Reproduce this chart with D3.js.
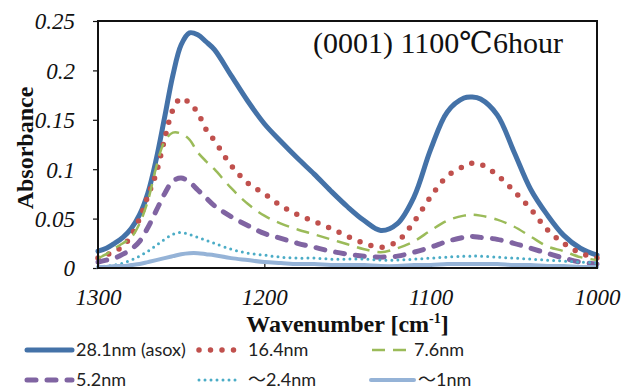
<!DOCTYPE html>
<html>
<head>
<meta charset="utf-8">
<script src="https://cdn.jsdelivr.net/npm/d3@7/dist/d3.min.js"></script>
<style>
  body { margin: 0; background: #fff; }
  svg { display: block; }
  .tick-label { font-family: "Liberation Serif", "DejaVu Serif", serif; font-style: italic; font-size: 23px; fill: #111; }
  .axis-title { font-family: "Liberation Serif", "DejaVu Serif", serif; font-weight: bold; font-size: 24px; fill: #111; }
  .chart-title { font-family: "Liberation Serif", "DejaVu Serif", serif; font-size: 30px; fill: #111; }
  .legend-text { font-family: Lato, "Noto Sans", sans-serif; font-size: 18px; fill: #222; }
  .tilde { font-family: "Noto Sans CJK JP", "Noto Sans CJK SC", sans-serif; }
</style>
</head>
<body>
<div id="chart"></div>
<script>
// wavenumber grid (cm-1)
const wavenumbers = [1300, 1295, 1290, 1285, 1280, 1275, 1270, 1265, 1260, 1255, 1250, 1245, 1240, 1235, 1230,
  1220, 1210, 1200, 1190, 1180, 1170, 1160, 1150, 1140, 1130, 1120, 1110, 1100, 1090, 1080, 1075, 1070,
  1060, 1050, 1040, 1030, 1020, 1010, 1000];

const abs281 = [0.017, 0.020, 0.025, 0.031, 0.040, 0.054, 0.076, 0.110, 0.152, 0.195, 0.226, 0.238, 0.236, 0.229, 0.221,
  0.195, 0.169, 0.146, 0.128, 0.111, 0.095, 0.078, 0.062, 0.048, 0.038, 0.045, 0.072, 0.120, 0.158, 0.172, 0.173, 0.171,
  0.155, 0.118, 0.080, 0.054, 0.033, 0.020, 0.013];
const abs164 = [0.010, 0.013, 0.017, 0.022, 0.033, 0.050, 0.073, 0.096, 0.130, 0.160, 0.172, 0.167, 0.157, 0.140, 0.129,
  0.104, 0.086, 0.075, 0.063, 0.054, 0.047, 0.040, 0.032, 0.025, 0.021, 0.027, 0.047, 0.072, 0.093, 0.103, 0.106, 0.105,
  0.094, 0.078, 0.060, 0.039, 0.025, 0.015, 0.010];
const abs76 = [0.010, 0.014, 0.020, 0.025, 0.031, 0.045, 0.068, 0.102, 0.128, 0.137, 0.136, 0.130, 0.117, 0.108, 0.100,
  0.081, 0.065, 0.053, 0.045, 0.039, 0.034, 0.029, 0.024, 0.019, 0.016, 0.020, 0.027, 0.038, 0.048, 0.053, 0.054, 0.053,
  0.049, 0.042, 0.032, 0.022, 0.017, 0.011, 0.008];
const abs52 = [0.006, 0.008, 0.010, 0.014, 0.019, 0.027, 0.041, 0.058, 0.075, 0.088, 0.091, 0.087, 0.079, 0.071, 0.063,
  0.052, 0.043, 0.035, 0.030, 0.025, 0.021, 0.017, 0.014, 0.012, 0.011, 0.012, 0.016, 0.021, 0.027, 0.031, 0.032, 0.031,
  0.029, 0.025, 0.020, 0.015, 0.010, 0.006, 0.004];
const abs24 = [0.001, 0.002, 0.003, 0.005, 0.008, 0.012, 0.017, 0.023, 0.029, 0.034, 0.036, 0.034, 0.031, 0.028, 0.025,
  0.019, 0.015, 0.013, 0.011, 0.010, 0.010, 0.009, 0.009, 0.009, 0.008, 0.008, 0.009, 0.010, 0.011, 0.012, 0.012, 0.012,
  0.011, 0.010, 0.009, 0.008, 0.007, 0.006, 0.005];
const abs1 = [0.001, 0.001, 0.002, 0.002, 0.003, 0.004, 0.006, 0.008, 0.010, 0.012, 0.014, 0.015, 0.015, 0.014, 0.013,
  0.010, 0.008, 0.006, 0.005, 0.004, 0.004, 0.003, 0.003, 0.003, 0.002, 0.002, 0.003, 0.003, 0.004, 0.004, 0.004, 0.004,
  0.004, 0.003, 0.003, 0.002, 0.002, 0.001, 0.001];

const seriesNames = ['28.1nm (asox)', '16.4nm', '7.6nm', '5.2nm', '～2.4nm', '～1nm'];
const xTicks = [1300, 1200, 1100, 1000];
const yTicks = [0, 0.05, 0.1, 0.15, 0.2, 0.25];
const yTickLabels = ['0', '0.05', '0.1', '0.15', '0.2', '0.25'];

// line styles for each series
const styles = [
  {color: '#4472a8', width: 5, dash: null, cap: 'round'},
  {color: '#c0504d', width: 5.5, dash: '0 11.5', cap: 'round'},
  {color: '#9bbb59', width: 2.5, dash: '13 8', cap: 'butt'},
  {color: '#8064a2', width: 5, dash: '9 11', cap: 'round'},
  {color: '#4bacc6', width: 3, dash: '0 6', cap: 'round'},
  {color: '#95b3d7', width: 4, dash: null, cap: 'round'}
];

const W = 625, H = 390;
const margin = {top: 21, right: 28, bottom: 122, left: 98};
const width = W - margin.left - margin.right;
const height = H - margin.top - margin.bottom;

const svg = d3.select('#chart').append('svg')
  .attr('width', W)
  .attr('height', H);

const xScale = d3.scaleLinear().domain([1300, 1000]).range([0, width]);
const yScale = d3.scaleLinear().domain([0, 0.25]).range([height, 0]);

const chart = svg.append('g')
  .attr('transform', `translate(${margin.left}, ${margin.top})`);

// y axis (ticks outward)
const yAxis = chart.append('g')
  .call(d3.axisLeft(yScale).tickValues(yTicks).tickSize(5).tickFormat((d, i) => yTickLabels[i]));
yAxis.attr('font-family', null).attr('font-size', null);
yAxis.select('.domain').remove();
yAxis.selectAll('line').attr('stroke', '#111').attr('stroke-width', 1.2);
yAxis.selectAll('text')
  .attr('class', 'tick-label')
  .attr('x', -23)
  .attr('dy', '0.34em');

// x axis (ticks inward)
const xAxis = chart.append('g')
  .attr('transform', `translate(0, ${height})`)
  .call(d3.axisBottom(xScale).tickValues(xTicks).tickSize(-5).tickFormat(d3.format('d')));
xAxis.attr('font-family', null).attr('font-size', null);
xAxis.select('.domain').remove();
xAxis.selectAll('line').attr('stroke', '#111').attr('stroke-width', 1.2);
xAxis.selectAll('text')
  .attr('class', 'tick-label')
  .attr('y', 37)
  .attr('dy', 0);

// series lines
const seriesData = [abs281, abs164, abs76, abs52, abs24, abs1];
const line = d3.line()
  .x(d => xScale(d[0]))
  .y(d => yScale(d[1]))
  .curve(d3.curveCatmullRom.alpha(0.5));

seriesData.forEach((vals, i) => {
  const st = styles[i];
  chart.append('path')
    .datum(wavenumbers.map((w, j) => [w, vals[j]]))
    .attr('class', 'line')
    .attr('fill', 'none')
    .attr('stroke', st.color)
    .attr('stroke-width', st.width)
    .attr('stroke-linecap', st.cap)
    .attr('stroke-linejoin', 'round')
    .attr('stroke-dasharray', st.dash)
    .attr('d', line);
});

// frame
chart.append('rect')
  .attr('x', 0).attr('y', 0)
  .attr('width', width).attr('height', height)
  .attr('fill', 'none')
  .attr('stroke', '#111')
  .attr('stroke-width', 2);

// titles
chart.append('text')
  .attr('class', 'chart-title')
  .attr('x', 215)
  .attr('y', 32)
  .text('(0001) 1100℃6hour');

const xt = svg.append('text')
  .attr('class', 'axis-title')
  .attr('x', margin.left + width / 2)
  .attr('y', 332)
  .attr('text-anchor', 'middle');
xt.append('tspan').text('Wavenumber [cm');
xt.append('tspan').attr('font-size', 14).attr('dy', -9).text('-1');
xt.append('tspan').attr('dy', 9).text(']');

svg.append('text')
  .attr('class', 'axis-title')
  .attr('font-size', 25)
  .attr('transform', 'translate(33, 148) rotate(-90)')
  .attr('text-anchor', 'middle')
  .text('Absorbance');

// legend
const legendPos = [
  {x: 27, x2: 72, tx: 76, y: 350},
  {x: 199, x2: 237, tx: 248, y: 350},
  {x: 372, x2: 413, tx: 414, y: 350},
  {x: 27, x2: 72, tx: 76, y: 380},
  {x: 199, x2: 240, tx: 248, y: 380},
  {x: 371, x2: 414, tx: 418, y: 380}
];
const legend = svg.append('g').attr('class', 'legend');
seriesNames.forEach((name, i) => {
  const p = legendPos[i], st = styles[i];
  legend.append('line')
    .attr('x1', p.x).attr('x2', p.x2)
    .attr('y1', p.y).attr('y2', p.y)
    .attr('stroke', st.color)
    .attr('stroke-width', st.width)
    .attr('stroke-linecap', st.cap)
    .attr('stroke-dasharray', st.dash);
  const t = legend.append('text')
    .attr('class', 'legend-text')
    .attr('x', p.tx)
    .attr('y', p.y + 6);
  if (name.startsWith('～')) {
    t.append('tspan').attr('class', 'tilde').text('～');
    t.append('tspan').text(name.slice(1));
  } else {
    t.text(name);
  }
});
</script>
</body>
</html>
